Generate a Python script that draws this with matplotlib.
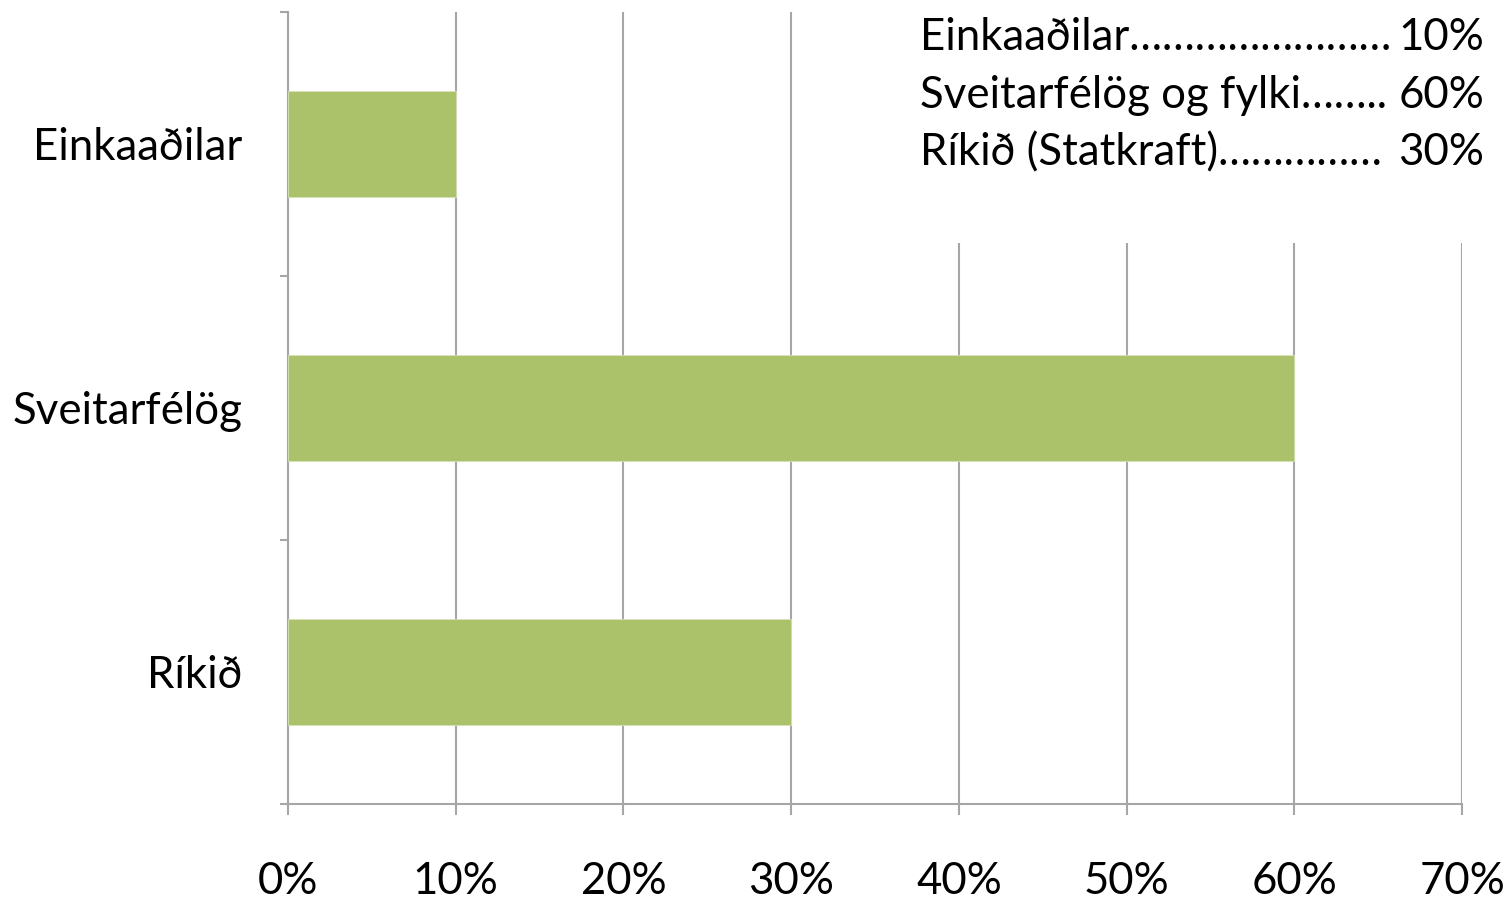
import matplotlib.pyplot as plt
from matplotlib.patches import Rectangle
from matplotlib.ticker import PercentFormatter

plt.rcParams['font.family'] = ['Lato', 'DejaVu Sans']

# data
categories = ["Einkaaðilar", "Sveitarfélög", "Ríkið"]
shares = [10, 60, 30]
note_labels = ["Einkaaðilar……………………", "Sveitarfélög og fylki……..", "Ríkið (Statkraft)……………"]
note_values = ["10%", "60%", "30%"]

bar_color = "#abc26b"
axis_gray = "#a6a6a6"

fig = plt.figure(figsize=(15.1, 9.01), dpi=100)
ax = fig.add_axes([288 / 1510, 1 - 804 / 901, 1174 / 1510, 792 / 901])

pos = list(range(len(categories)))
ax.barh(pos, shares, height=0.4, color=bar_color, edgecolor="#d6e2b8", linewidth=0.6, zorder=3)

ax.set_xlim(0, 70)
ax.set_ylim(2.5, -0.5)
ax.set_xticks(range(0, 71, 10))
ax.xaxis.set_major_formatter(PercentFormatter(decimals=0))
ax.set_yticks(pos)
ax.set_yticklabels(categories)
ax.set_yticks([-0.5, 0.5, 1.5, 2.5], minor=True)

ax.tick_params(axis="x", labelsize=31.5, length=8, width=1.5, color=axis_gray, pad=33)
ax.tick_params(axis="y", which="major", labelsize=31.5, length=0, pad=33)
ax.tick_params(axis="y", which="minor", length=6, width=1.5, color=axis_gray)

for s in ["top", "right"]:
    ax.spines[s].set_visible(False)
for s in ["left", "bottom"]:
    ax.spines[s].set_color(axis_gray)
    ax.spines[s].set_linewidth(1.5)

ax.grid(axis="x", color=axis_gray, linewidth=1.5, zorder=0)
ax.set_axisbelow(True)

# white box holding the note, hides the gridlines behind it
fig.add_artist(Rectangle((905 / 1510, 1 - 243 / 901), 1, 1, transform=fig.transFigure,
                         facecolor="white", edgecolor="none", zorder=1))

baselines = [50, 108, 165]
for lab, val, yb in zip(note_labels, note_values, baselines):
    fig.text(920 / 1510, 1 - yb / 901, lab, fontsize=31.5, ha="left", va="baseline", zorder=2)
    fig.text(1484 / 1510, 1 - yb / 901, val, fontsize=31.5, ha="right", va="baseline", zorder=2)

fig.savefig("out.png", dpi=100)
